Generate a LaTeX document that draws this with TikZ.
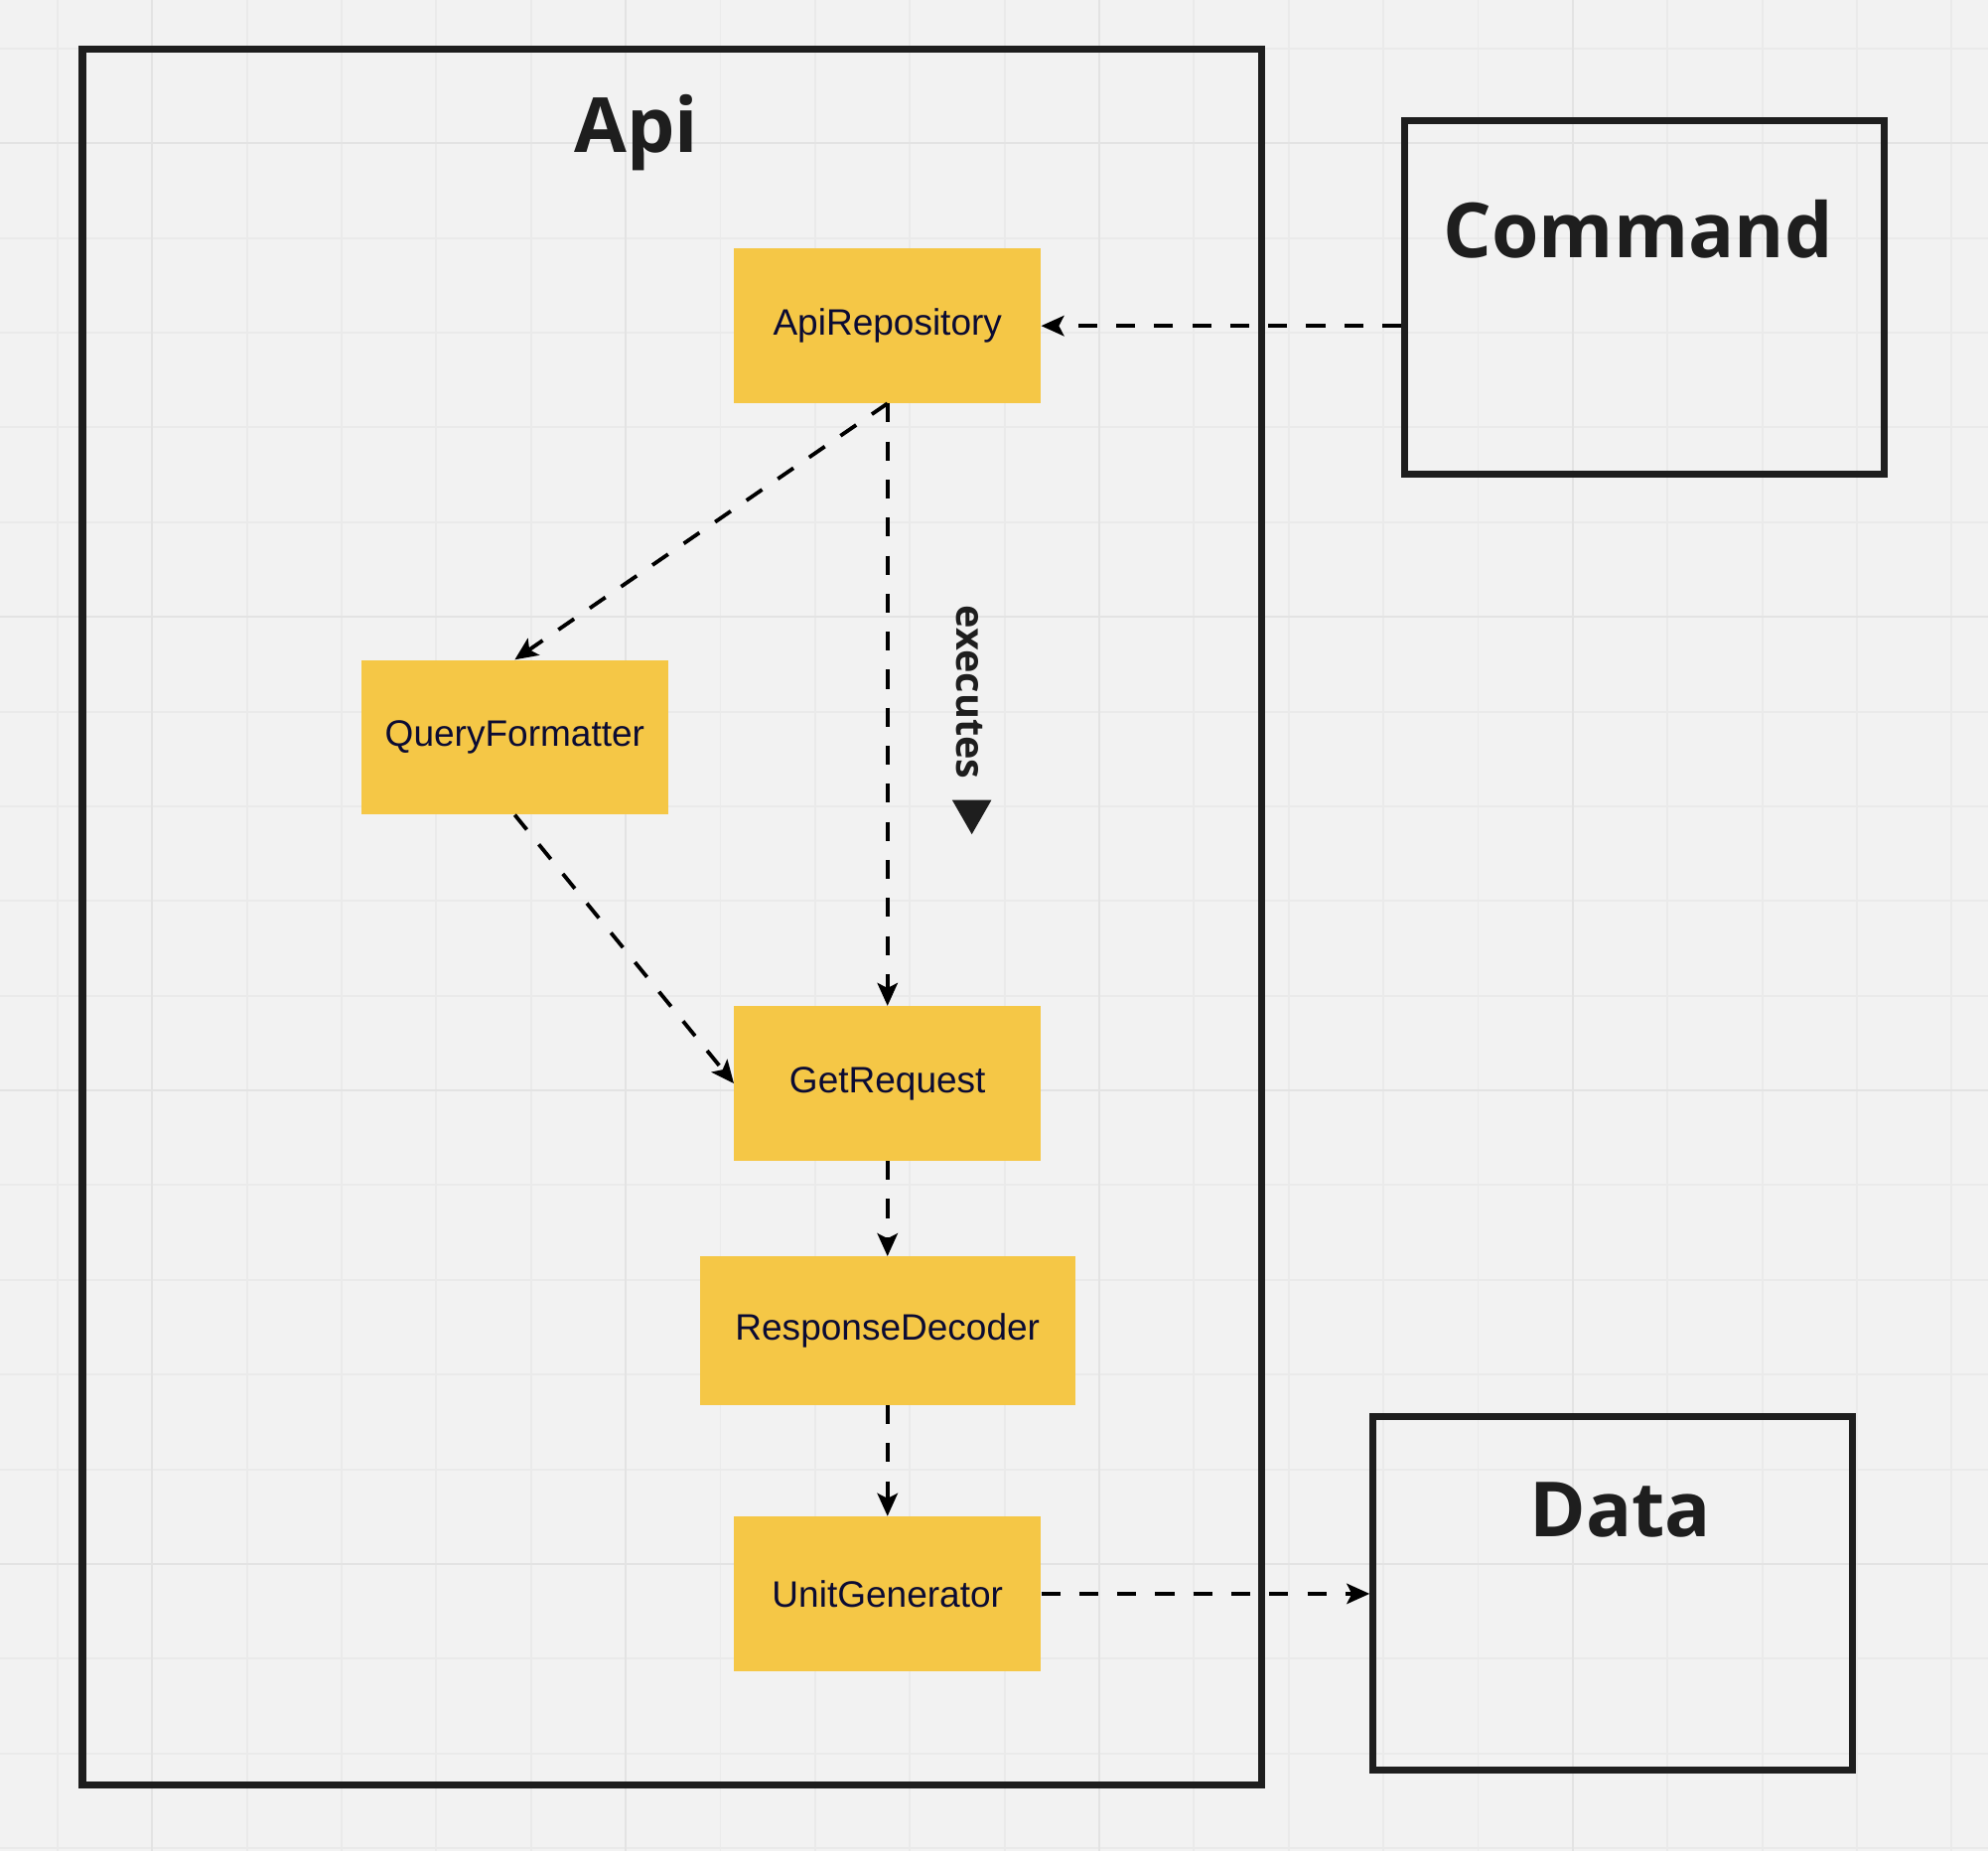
\documentclass[tikz,border=0pt]{standalone}
\usepackage{fontspec}
\setmainfont{Liberation Sans}
\newfontfamily\titlefont{Open Sans}
\usetikzlibrary{arrows.meta,calc}
\definecolor{bgc}{HTML}{F2F2F2}
\definecolor{gridminor}{HTML}{EAEAEA}
\definecolor{gridmajor}{HTML}{E3E3E3}
\definecolor{boxyellow}{HTML}{F5C746}
\definecolor{navytext}{HTML}{0B0B33}
\definecolor{inkc}{HTML}{1E1E1E}
\tikzset{
  classbox/.style={fill=boxyellow, draw=none, inner sep=0pt, minimum width=242pt, minimum height=122pt,
    text=navytext, font=\fontsize{29}{34}\selectfont},
  framebox/.style={draw=inkc, line width=5.5pt, inner sep=0pt},
  titletext/.style={text=inkc, font=\titlefont\bfseries\fontsize{60}{70}\selectfont, anchor=base, inner sep=0pt},
  dep/.style={draw=black, line width=3pt, dash pattern=on 15pt off 15pt,
    -{Stealth[length=18pt, width=16pt, inset=4pt]}},
}
\begin{document}
\begin{tikzpicture}[x=1pt,y=-1pt]
\useasboundingbox (0,0) rectangle (1568,1460);
\fill[bgc] (0,0) rectangle (1568,1460);
% grid
\foreach \k in {0,...,20} {
  \draw[gridminor, line width=1.5pt] ({45.3+74.7*\k},0) -- ({45.3+74.7*\k},1460);
  \draw[gridminor, line width=1.5pt] (0,{38.3+74.7*\k}) -- (1568,{38.3+74.7*\k});
}
\foreach \k in {0,...,4} {
  \draw[gridmajor, line width=1.8pt] ({120+373.5*\k},0) -- ({120+373.5*\k},1460);
  \draw[gridmajor, line width=1.8pt] (0,{113+373.5*\k}) -- (1568,{113+373.5*\k});
}
% frames
\node[framebox, minimum width=930pt, minimum height=1369pt] (api) at (530,723.5) {};
\node[titletext] (apititle) at (502,120) {Api};
\node[framebox, minimum width=378pt, minimum height=279pt] (cmd) at (1297,234.5) {};
\node[titletext] (cmdtitle) at (1292,203) {Command};
\node[framebox, minimum width=378pt, minimum height=279pt] (data) at (1272,1256.5) {};
\node[titletext] (datatitle) at (1278,1212) {Data};
% classes
\node[classbox] (repo) at (700,257) {ApiRepository};
\node[classbox] (qf) at (406,581.5) {QueryFormatter};
\node[classbox] (get) at (700,854.5) {GetRequest};
\node[classbox, minimum width=296pt, minimum height=117pt] (resp) at (700,1049.5) {ResponseDecoder};
\node[classbox] (unit) at (700,1257) {UnitGenerator};
% connectors
\draw[dep] (cmd.west |- repo.east) -- (repo.east);
\draw[dep] (repo.south) -- (qf.north);
\draw[dep] (repo.south) -- (get.north);
\draw[dep] (qf.south) -- (get.west);
\draw[dep] (get.south) -- (resp.north);
\draw[dep] (resp.south) -- (unit.north);
\draw[dep] (unit.east) -- (unit.east -| data.west);
% label
\node[rotate=-90, text=inkc, font=\titlefont\bfseries\fontsize{31}{36}\selectfont, inner sep=0pt] (execlbl) at (765,546) {executes};
\fill[inkc] (751,631) -- (782,631) -- (766.5,658) -- cycle;
\end{tikzpicture}
\end{document}
